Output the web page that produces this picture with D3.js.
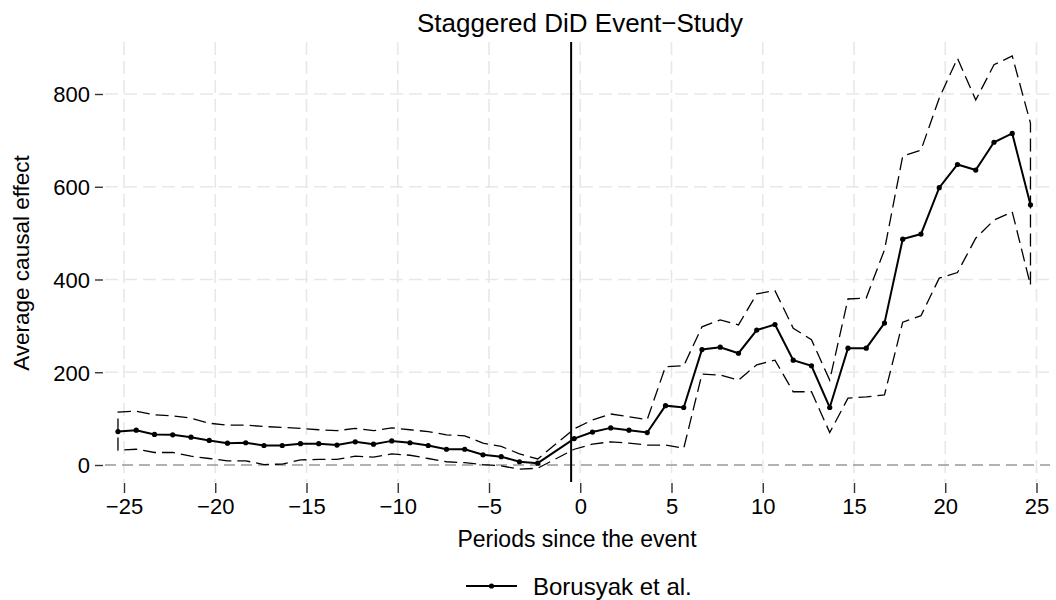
<!DOCTYPE html>
<html>
<head>
<meta charset="utf-8">
<script src="https://cdn.jsdelivr.net/npm/d3@7"></script>
<style>
  body { margin: 0; background: #fff; }
  text { font-family: "Liberation Sans", Arial, Helvetica, sans-serif; fill: #000; }
</style>
</head>
<body>
<div id="chart"></div>
<script>
// event-study estimates (period -1 is the reference and not shown)
var periods = [-25,-24,-23,-22,-21,-20,-19,-18,-17,-16,-15,-14,-13,-12,-11,-10,-9,-8,-7,-6,-5,-4,-3,-2,
               0,1,2,3,4,5,6,7,8,9,10,11,12,13,14,15,16,17,18,19,20,21,22,23,24,25];
var estimate = [72,75,66,65,60,53,47,48,42,42,46,46,43,50,45,52,48,42,34,34,22,18,7,4,
                57,71,80,75,70,128,124,249,254,241,291,303,226,214,124,252,252,306,487,498,598,648,636,696,715,561];
var upper = [114,116,108,106,101,90,86,86,83,81,79,76,74,79,74,80,76,72,65,63,47,40,24,13,
             78,97,110,104,98,212,214,298,313,302,369,376,295,270,183,358,360,464,666,679,791,877,787,863,882,737];
var lower = [32,34,27,27,19,14,9,9,1,2,11,12,12,19,17,24,21,14,7,5,1,-2,-9,-7,
             34,45,50,47,43,43,36,196,194,183,216,226,158,158,70,144,147,151,308,322,403,415,489,528,546,388];
var xTicks = [-25,-20,-15,-10,-5,0,5,10,15,20,25];
var yTicks = [0,200,400,600,800];
var seriesName = "Borusyak et al.";
var eventLine = -0.5;
var dodge = -0.33;

var W = 1056, H = 600;
var plot = { left: 105, right: 1050, top: 42, bottom: 482 };

var svg = d3.select("#chart").append("svg")
    .attr("width", W)
    .attr("height", H);

var x = d3.scaleLinear().domain([-25, 25]).range([124, 1036.5]);
var y = d3.scaleLinear().domain([0, 800]).range([465, 94]);

// grid
svg.append("g").selectAll("line")
    .data(xTicks)
    .enter().append("line")
    .attr("x1", function(d) { return x(d); })
    .attr("x2", function(d) { return x(d); })
    .attr("y1", plot.top)
    .attr("y2", plot.bottom)
    .attr("stroke", "#e8e8e8")
    .attr("stroke-width", 1.6)
    .attr("stroke-dasharray", "13,6");

svg.append("g").selectAll("line")
    .data(yTicks.filter(function(d) { return d !== 0; }))
    .enter().append("line")
    .attr("x1", plot.left)
    .attr("x2", plot.right)
    .attr("y1", function(d) { return y(d); })
    .attr("y2", function(d) { return y(d); })
    .attr("stroke", "#e8e8e8")
    .attr("stroke-width", 1.6)
    .attr("stroke-dasharray", "13,6");

// zero reference line
svg.append("line")
    .attr("x1", plot.left).attr("x2", plot.right)
    .attr("y1", y(0)).attr("y2", y(0))
    .attr("stroke", "#999")
    .attr("stroke-width", 1.4)
    .attr("stroke-dasharray", "11,6");

// event line
svg.append("line")
    .attr("x1", x(eventLine)).attr("x2", x(eventLine))
    .attr("y1", plot.top).attr("y2", plot.bottom)
    .attr("stroke", "#000")
    .attr("stroke-width", 2);

// axes
var xAxis = svg.append("g")
    .attr("transform", "translate(0," + (plot.bottom + 1) + ")")
    .call(d3.axisBottom(x).tickValues(xTicks).tickSize(10).tickPadding(5));
var yAxis = svg.append("g")
    .attr("transform", "translate(" + (plot.left - 2) + ",0)")
    .call(d3.axisLeft(y).tickValues(yTicks).tickSize(8).tickPadding(5));

[xAxis, yAxis].forEach(function(a) {
    a.select(".domain").remove();
    a.selectAll(".tick line").attr("stroke", "#333").attr("stroke-width", 1.4);
    a.selectAll(".tick text").attr("font-size", 22).attr("fill", "#000");
});
yAxis.selectAll(".tick text").attr("dy", "0.36em");

// confidence band outline (closed, dashed)
var band = periods.map(function(p, i) { return [p, upper[i]]; })
    .concat(periods.map(function(p, i) { return [p, lower[i]]; }).reverse());

var bandLine = d3.line()
    .x(function(d) { return x(d[0] + dodge); })
    .y(function(d) { return y(d[1]); });

svg.append("path")
    .attr("d", bandLine(band) + "Z")
    .attr("fill", "none")
    .attr("stroke", "#000")
    .attr("stroke-width", 1.3)
    .attr("stroke-dasharray", "13,6");

// estimates
var pts = periods.map(function(p, i) { return [p, estimate[i]]; });
svg.append("path")
    .datum(pts)
    .attr("d", bandLine)
    .attr("fill", "none")
    .attr("stroke", "#000")
    .attr("stroke-width", 2);

svg.append("g").selectAll("circle")
    .data(pts)
    .enter().append("circle")
    .attr("cx", function(d) { return x(d[0] + dodge); })
    .attr("cy", function(d) { return y(d[1]); })
    .attr("r", 2.6)
    .attr("fill", "#000");

// titles
svg.append("text")
    .attr("x", 580).attr("y", 32)
    .attr("text-anchor", "middle")
    .attr("font-size", 26)
    .text("Staggered DiD Event\u2212Study");

svg.append("text")
    .attr("x", 577).attr("y", 547)
    .attr("text-anchor", "middle")
    .attr("font-size", 23)
    .text("Periods since the event");

svg.append("text")
    .attr("transform", "translate(29,263)rotate(-90)")
    .attr("text-anchor", "middle")
    .attr("font-size", 22.5)
    .text("Average causal effect");

// legend
var lg = svg.append("g").attr("transform", "translate(466,586)");
lg.append("line")
    .attr("x1", 0).attr("x2", 51)
    .attr("y1", 0).attr("y2", 0)
    .attr("stroke", "#000").attr("stroke-width", 2);
lg.append("circle").attr("cx", 25.5).attr("cy", 0).attr("r", 2.6).attr("fill", "#000");
lg.append("text")
    .attr("x", 67).attr("y", 0)
    .attr("dy", "0.36em")
    .attr("font-size", 24)
    .text(seriesName);
</script>
</body>
</html>
